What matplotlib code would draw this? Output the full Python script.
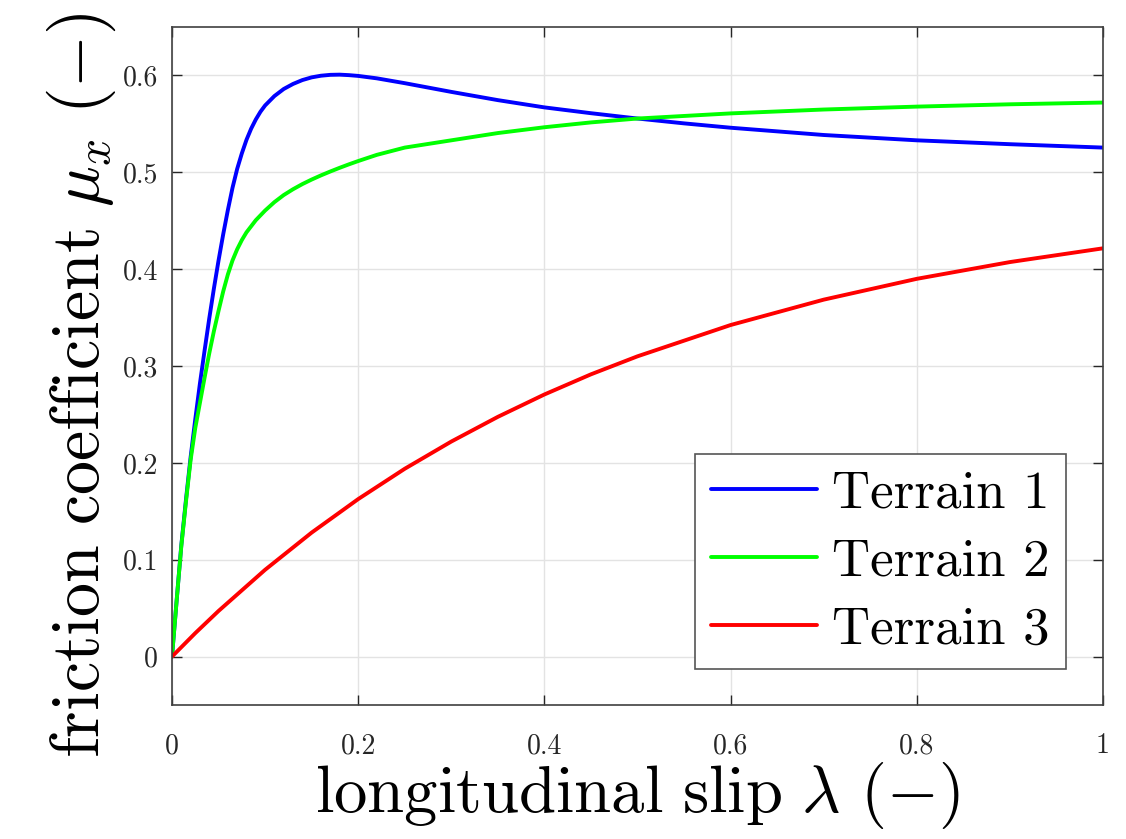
import matplotlib
matplotlib.use("Agg")
import matplotlib.pyplot as plt

# ---- data ----
t1_x = [0, 0.005, 0.01, 0.015, 0.02, 0.025, 0.03, 0.035, 0.04, 0.045, 0.05, 0.055,
        0.06, 0.065, 0.07, 0.075, 0.08, 0.085, 0.09, 0.095, 0.1, 0.11, 0.12, 0.13,
        0.14, 0.15, 0.16, 0.17, 0.18, 0.19, 0.2, 0.22, 0.25, 0.3, 0.35, 0.4, 0.45,
        0.5, 0.55, 0.6, 0.7, 0.8, 0.9, 1.0]
t1_y = [0, 0.058, 0.115, 0.162, 0.206, 0.245, 0.282, 0.316, 0.349, 0.38, 0.409, 0.436,
        0.461, 0.484, 0.5035, 0.5195, 0.5335, 0.545, 0.5545, 0.5625, 0.569, 0.5787, 0.586, 0.5912,
        0.5952, 0.598, 0.5997, 0.6006, 0.6008, 0.6003, 0.5995, 0.597, 0.592, 0.583, 0.5745, 0.567, 0.561,
        0.5555, 0.5505, 0.546, 0.5385, 0.533, 0.529, 0.5255]

t2_x = [0, 0.005, 0.01, 0.015, 0.02, 0.025, 0.03, 0.035, 0.04, 0.045, 0.05, 0.055,
        0.06, 0.065, 0.07, 0.075, 0.08, 0.09, 0.1, 0.11, 0.12, 0.13, 0.14, 0.15,
        0.16, 0.17, 0.18, 0.19, 0.2, 0.22, 0.25, 0.3, 0.35, 0.4, 0.45, 0.5, 0.6,
        0.7, 0.8, 0.9, 1.0]
t2_y = [0, 0.058, 0.114, 0.16, 0.203, 0.236, 0.262, 0.288, 0.313, 0.336, 0.357, 0.377,
        0.3945, 0.409, 0.4205, 0.43, 0.438, 0.4505, 0.4605, 0.4692, 0.4765, 0.4825, 0.4878, 0.4925,
        0.4968, 0.5008, 0.5046, 0.5082, 0.5116, 0.518, 0.5255, 0.533, 0.5405, 0.5465, 0.5515, 0.5555, 0.5608,
        0.5648, 0.5678, 0.5702, 0.572]

t3_x = [0, 0.025, 0.05, 0.1, 0.15, 0.2, 0.25, 0.3, 0.35, 0.4, 0.45, 0.5,
        0.6, 0.7, 0.8, 0.9, 1.0]
t3_y = [0, 0.0242, 0.0471, 0.0896, 0.128, 0.1626, 0.1939, 0.222, 0.2475, 0.2706,
        0.2914, 0.310, 0.3423, 0.3685, 0.390, 0.4073, 0.4215]

series_labels = ["Terrain 1", "Terrain 2", "Terrain 3"]
x_ticks = [0, 0.2, 0.4, 0.6, 0.8, 1]
x_ticklabels = ["0", "0.2", "0.4", "0.6", "0.8", "1"]
y_ticks = [0, 0.1, 0.2, 0.3, 0.4, 0.5, 0.6]
y_ticklabels = ["0", "0.1", "0.2", "0.3", "0.4", "0.5", "0.6"]

plt.rcParams["font.family"] = ["cmr10", "DejaVu Serif"]
plt.rcParams["mathtext.fontset"] = "cm"
plt.rcParams["axes.unicode_minus"] = False

fig = plt.figure(figsize=(11.26, 8.39), dpi=100)
ax = fig.add_axes([172 / 1126, 1 - 705 / 839, (1103 - 172) / 1126, (705 - 27) / 839])

kw = dict(lw=2.8, solid_joinstyle="round", solid_capstyle="round")
ax.plot(t1_x, t1_y, color="#0000ff", label=series_labels[0], **kw)
ax.plot(t2_x, t2_y, color="#00ff00", label=series_labels[1], **kw)
ax.plot(t3_x, t3_y, color="#ff0000", label=series_labels[2], **kw)

ax.set_xlim(0, 1)
ax.set_ylim(-0.05, 0.65)
ax.set_xticks(x_ticks)
ax.set_xticklabels(x_ticklabels)
ax.set_yticks(y_ticks)
ax.set_yticklabels(y_ticklabels)

ax.grid(True, color="#e3e3e3", lw=1.0)
ax.set_axisbelow(True)
frame_c = "#404040"
for s in ax.spines.values():
    s.set_color(frame_c)
    s.set_linewidth(1.2)
ax.tick_params(direction="in", length=7, width=1.0, color="#262626",
               top=True, right=True, labelsize=20, labelcolor="#262626")
ax.tick_params(axis="x", pad=20)
ax.tick_params(axis="y", pad=10)

ax.set_xlabel(r"$\mathrm{longitudinal\ slip}\ \lambda\ (-)$", fontsize=48, labelpad=1)
ax.set_ylabel(r"$\mathrm{friction\ coefficient}\ \mu_x\ (-)$", fontsize=49, labelpad=3)
ax.yaxis.label.set_y(0.472)

leg = ax.legend(loc="lower right", bbox_to_anchor=(0.960, 0.053), borderaxespad=0,
                fontsize=38, fancybox=False, framealpha=1, edgecolor="#555555",
                handlelength=2.0, handletextpad=0.3, labelspacing=0.4, borderpad=0.3)
leg.get_frame().set_linewidth(1.2)

fig.savefig("out.png", dpi=100)
